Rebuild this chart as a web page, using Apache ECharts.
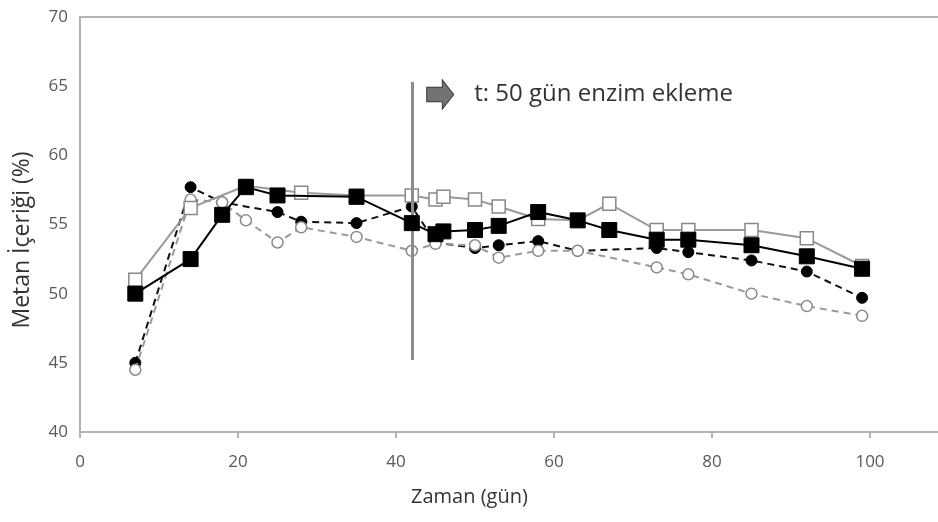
<!DOCTYPE html>
<html>
<head>
<meta charset="utf-8">
<script src="https://cdn.jsdelivr.net/npm/echarts@6/dist/echarts.min.js"></script>
<style>html,body{margin:0;padding:0;background:#fff}#c{width:938px;height:522px}</style>
</head>
<body>
<div id="c"></div>
<script>
// Open squares (grey solid line)
const openSquare = [[7,51.0],[14,56.2],[21,57.8],[28,57.3],[35,57.1],[42,57.1],[45,56.8],[46,57.0],[50,56.8],[53,56.3],[58,55.4],[63,55.3],[67,56.5],[73,54.6],[77,54.6],[85,54.6],[92,54.0],[99,52.0]];
// Filled squares (black solid line)
const filledSquare = [[7,50.0],[14,52.5],[18,55.7],[21,57.7],[25,57.1],[35,57.0],[42,55.1],[45,54.3],[46,54.5],[50,54.6],[53,54.9],[58,55.9],[63,55.3],[67,54.6],[73,53.9],[77,53.9],[85,53.5],[92,52.7],[99,51.8]];
// Filled circles (black dashed line)
const filledCircle = [[7,45.0],[14,57.7],[18,56.6],[25,55.9],[28,55.2],[35,55.1],[42,56.3],[45,53.7],[50,53.3],[53,53.5],[58,53.8],[63,53.1],[73,53.3],[77,53.0],[85,52.4],[92,51.6],[99,49.7]];
// Open circles (grey dashed line)
const openCircle = [[7,44.5],[14,56.8],[18,56.6],[21,55.3],[25,53.7],[28,54.8],[35,54.1],[42,53.1],[45,53.6],[50,53.5],[53,52.6],[58,53.1],[63,53.1],[73,51.9],[77,51.4],[85,50.0],[92,49.1],[99,48.4]];
// Enzyme addition marker
const enzymeLine = [[42,45.2],[42,65.3]];
const arrowAt = [45.6,64.4];
const annotationText = 't: 50 gün enzim ekleme';
const xTitle = 'Zaman (gün)';
const yTitle = 'Metan İçeriği (%)';

const chart = echarts.init(document.getElementById('c'));
const F = '"Open Sans", "Noto Sans", sans-serif';
chart.setOption({
  animation: false,
  backgroundColor: '#fff',
  grid: {left: 80, top: 17, width: 869, height: 415, show: true, borderColor: '#b3b3b3', borderWidth: 2, containLabel: false, outerBoundsMode: 'none'},
  xAxis: {
    type: 'value', min: 0, max: 110, interval: 20,
    axisLine: {show: true, lineStyle: {color: '#b3b3b3', width: 2}},
    axisTick: {show: true, length: 6, lineStyle: {color: '#b3b3b3', width: 2}},
    splitLine: {show: false},
    axisLabel: {color: '#595959', fontSize: 17, fontFamily: F, margin: 22, showMaxLabel: false}
  },
  yAxis: {
    type: 'value', min: 40, max: 70, interval: 5,
    axisLine: {show: true, lineStyle: {color: '#b3b3b3', width: 2}},
    axisTick: {show: false},
    splitLine: {show: false},
    axisLabel: {color: '#595959', fontSize: 17, fontFamily: F, margin: 12}
  },
  graphic: [{
    type: 'text', left: 411, top: 487,
    style: {text: xTitle, fill: '#333', fontSize: 20, fontFamily: F}
  }, {
    type: 'text', x: 22, y: 240, rotation: Math.PI / 2,
    style: {text: yTitle, fill: '#333', fontSize: 23, fontFamily: F, align: 'center', verticalAlign: 'middle'}
  }],
  series: [
    {
      type: 'line', data: filledCircle, symbol: 'circle', symbolSize: 11,
      lineStyle: {color: '#111', width: 2, type: [7, 5]},
      itemStyle: {color: '#000', borderColor: '#000'}, z: 2,
      markLine: {
        silent: true, symbol: 'none', label: {show: false},
        lineStyle: {color: '#8c8c8c', width: 3, type: 'solid'},
        data: [[{coord: enzymeLine[0]}, {coord: enzymeLine[1]}]]
      },
      markPoint: {
        silent: true,
        symbol: 'path://M0,7 L15,7 L15,0 L26,14 L15,28 L15,21 L0,21 Z',
        symbolSize: [27, 29], symbolKeepAspect: false,
        itemStyle: {color: '#737373', borderColor: '#333', borderWidth: 1},
        label: {show: true, position: 'right', distance: 20, formatter: annotationText, color: '#333', fontSize: 24, fontFamily: F},
        data: [{coord: arrowAt}]
      }
    },
    {
      type: 'line', data: openCircle, symbol: 'circle', symbolSize: 11,
      lineStyle: {color: '#9a9a9a', width: 2, type: [7, 5]},
      itemStyle: {color: '#fff', borderColor: '#8a8a8a', borderWidth: 1.5}, z: 3
    },
    {
      type: 'line', data: openSquare, symbol: 'rect', symbolSize: 13,
      lineStyle: {color: '#9a9a9a', width: 2},
      itemStyle: {color: '#fff', borderColor: '#888', borderWidth: 1.5}, z: 4
    },
    {
      type: 'line', data: filledSquare, symbol: 'rect', symbolSize: 15,
      lineStyle: {color: '#000', width: 2},
      itemStyle: {color: '#000', borderColor: '#000'}, z: 5
    }
  ]
});
</script>
</body>
</html>
